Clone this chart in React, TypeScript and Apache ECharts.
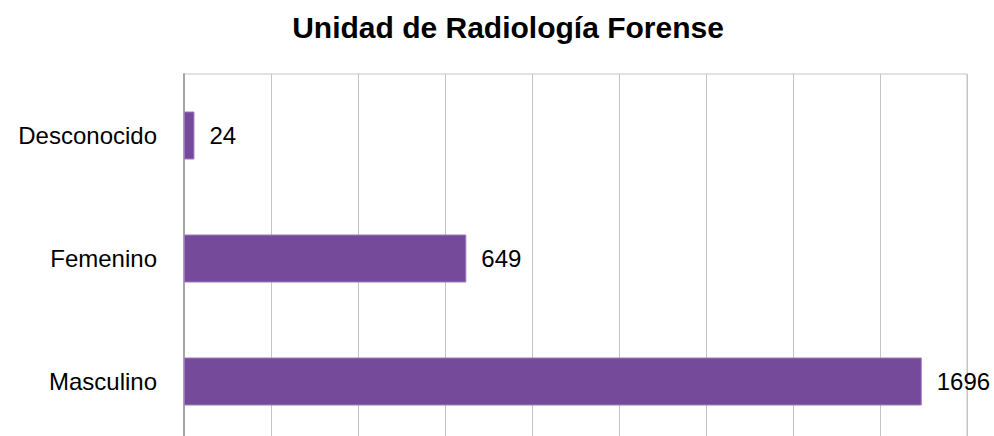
import React, { useEffect, useRef } from "react";
import * as echarts from "echarts";

const categories = ["Masculino", "Femenino", "Desconocido"];
const values = [1696, 649, 24];
const titleText = "Unidad de Radiología Forense";

const FONT = "Liberation Sans, Arial, sans-serif";

export default function App() {
  const ref = useRef<HTMLDivElement>(null);
  useEffect(() => {
    if (!ref.current) return;
    const chart = echarts.init(ref.current, null, { renderer: "svg" });
    chart.setOption({
      animation: false,
      textStyle: { fontFamily: FONT },
      title: {
        text: titleText,
        left: 503,
        top: 7,
        textAlign: "center",
        textStyle: { fontSize: 30, fontWeight: "bold", color: "#000", fontFamily: FONT },
      },
      grid: {
        left: 184,
        right: 27,
        top: 74,
        bottom: 7,
        show: true,
        borderColor: "#c4c4c4",
        borderWidth: 1,
      },
      xAxis: {
        type: "value",
        min: 0,
        max: 1800,
        interval: 200,
        axisLabel: { show: false },
        axisTick: { show: false },
        axisLine: { show: false },
        splitLine: { show: true, lineStyle: { color: "#c4c4c4", width: 1 } },
      },
      yAxis: {
        type: "category",
        data: categories,
        axisTick: { show: false },
        axisLine: { show: true, lineStyle: { color: "#a6a6a6", width: 2 } },
        axisLabel: { fontSize: 24, color: "#000", margin: 27, fontFamily: FONT },
      },
      series: [
        {
          type: "bar",
          data: values,
          barWidth: 48,
          itemStyle: { color: "#764a9a", borderColor: "#9b7bbb", borderWidth: 1 },
          label: {
            show: true,
            position: "right",
            distance: 15,
            fontSize: 24,
            color: "#000",
            fontFamily: FONT,
          },
        },
      ],
    });
    return () => chart.dispose();
  }, []);
  return (
    <div
      ref={ref}
      style={{ position: "absolute", left: 0, top: 0, width: 994, height: 450 }}
    />
  );
}
